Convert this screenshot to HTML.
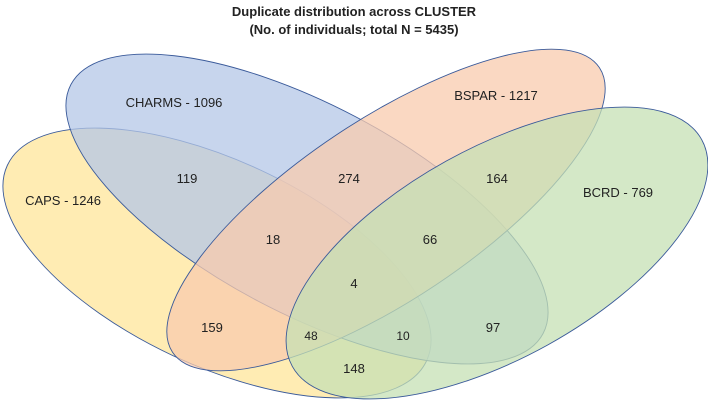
<!DOCTYPE html>
<html><head><meta charset="utf-8"><style>
body{margin:0;background:#fff;overflow:hidden;}
svg{display:block;font-family:"Liberation Sans",sans-serif;}
</style></head><body>
<svg width="708" height="400" viewBox="0 0 708 400">
<text x="354" y="16" text-anchor="middle" font-size="13" font-weight="bold" fill="#222">Duplicate distribution across CLUSTER</text>
<text x="354" y="34" text-anchor="middle" font-size="13" font-weight="bold" fill="#222">(No. of individuals; total N = 5435)</text>
<g id="sets"></g>
<g id="labels" font-size="13" fill="#222"></g>
</svg>
<script>
const setNames = ["CAPS - 1246","CHARMS - 1096","BSPAR - 1217","BCRD - 769"];
const setFills = ["#ffe699","#b4c7e7","#f8cbad","#c5e0b4"];
const regionValues = ["119","274","164","18","66","4","159","48","10","97","148"];
const ns="http://www.w3.org/2000/svg";
const ell=[[217,263,231.3,102.6,25.0],[307,209,266.9,104.3,27.8],[386,210,256.5,90,-33.7],[497,253,234,105,-29]];
const setLabelPos=[[63,205],[174,107],[496,100],[618,197]];
const regionPos=[[187,183],[349,183],[497,183],[273,244],[430,244],[354,288],[212,332],[311,340],[403,340],[493,332],[354,373]];
const g=document.getElementById('sets');
ell.forEach((e,i)=>{
 const el=document.createElementNS(ns,'ellipse');
 
 
 el.setAttribute('cx',e[0]);el.setAttribute('cy',e[1]);el.setAttribute('rx',e[2]);el.setAttribute('ry',e[3]);
 el.setAttribute('transform',`rotate(${e[4]} ${e[0]} ${e[1]})`);
 el.setAttribute('fill',setFills[i]);el.setAttribute('fill-opacity','0.75');
 el.setAttribute('stroke','#3a5a9a');el.setAttribute('stroke-width','0.9');
 g.appendChild(el);
});
const lg=document.getElementById('labels');
setNames.forEach((t,i)=>{
 const tx=document.createElementNS(ns,'text');
 
 
 tx.setAttribute('x',setLabelPos[i][0]);tx.setAttribute('y',setLabelPos[i][1]);tx.setAttribute('text-anchor','middle');
 tx.textContent=t;lg.appendChild(tx);
});
regionValues.forEach((t,i)=>{
 const tx=document.createElementNS(ns,'text');
 
 
 tx.setAttribute('x',regionPos[i][0]);tx.setAttribute('y',regionPos[i][1]);tx.setAttribute('text-anchor','middle');
 if(t==="48"||t==="10")tx.setAttribute('font-size','12');
 tx.textContent=t;lg.appendChild(tx);
});
</script>
</body></html>
